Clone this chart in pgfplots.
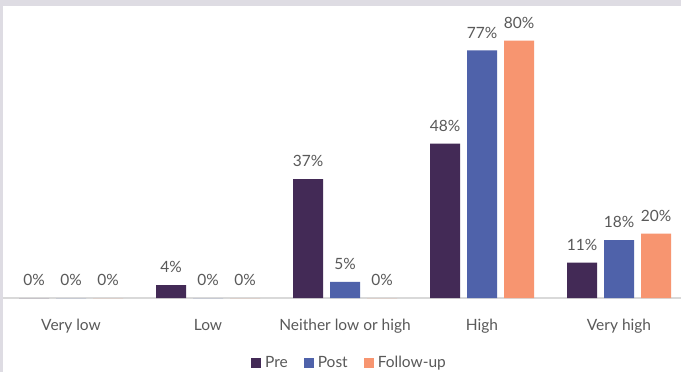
\documentclass[border=0pt]{standalone}
\usepackage{pgfplots}
\pgfplotsset{compat=1.18}
\usepackage{fontspec}
\setmainfont{Lato}
\definecolor{pre}{HTML}{432A56}
\definecolor{post}{HTML}{4F62AA}
\definecolor{fol}{HTML}{F79570}
\definecolor{txt}{HTML}{595959}
\definecolor{bord}{HTML}{DEDCE3}
\definecolor{axl}{HTML}{D9D9D9}
\begin{document}
\begin{tikzpicture}
\path[use as bounding box] (0,0) rectangle (681bp,372bp);
\fill[bord] (0,0) rectangle (681bp,372bp);
\fill[white] (3bp,0) rectangle (681bp,366bp);
\begin{axis}[
  at={(2.5bp,74bp)}, anchor=south west,
  scale only axis, width=685bp, height=292bp,
  ybar=7bp, bar width=30bp,
  xmin=-0.5, xmax=4.5, ymin=0, ymax=90.8,
  clip=false,
  /pgf/number format/assume math mode=true,
  axis x line*=bottom, axis y line=none,
  x axis line style={draw=axl, line width=1.5bp},
  xtick={0,1,2,3,4},
  xticklabels={Very low, Low, Neither low or high, High, Very high},
  major tick length=0pt,
  xticklabel style={font=\fontsize{15.5bp}{18bp}\selectfont, text=txt, anchor=north, inner sep=0pt, yshift=-21bp, text height=11bp, text depth=3bp},
  nodes near coords={\pgfmathprintnumber[fixed,precision=0,assume math mode=true]{\pgfplotspointmeta}\%},
  every node near coord/.append style={font=\fontsize{15.5bp}{18bp}\selectfont, text=txt, anchor=south, inner sep=0pt, yshift=12bp},
  legend columns=3,
  legend style={at={(0.5066,-0.2226)}, anchor=center, draw=none, fill=none, font=\fontsize{15.5bp}{18bp}\selectfont, text=txt,
    /tikz/every even column/.append style={column sep=14bp},
    /tikz/every odd column/.append style={column sep=2bp}},
  legend image code/.code={\fill[#1] (0bp,-5bp) rectangle (10bp,5bp);},
]
\addplot[fill=pre, draw=none] coordinates {(0,0) (1,4) (2,37) (3,48) (4,11)};
\addplot[fill=post, draw=none] coordinates {(0,0) (1,0) (2,5) (3,77) (4,18)};
\addplot[fill=fol, draw=none] coordinates {(0,0) (1,0) (2,0) (3,80) (4,20)};
\legend{Pre, Post, Follow-up}
\end{axis}
\end{tikzpicture}
\end{document}
